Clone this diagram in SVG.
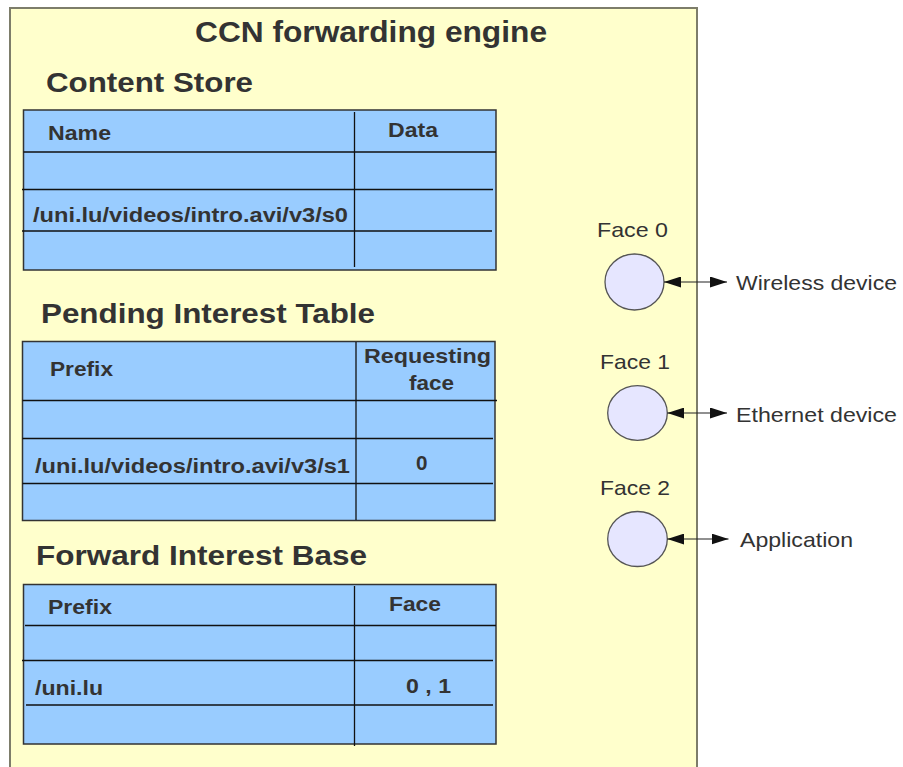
<svg xmlns="http://www.w3.org/2000/svg" width="903" height="767" viewBox="0 0 903 767">
<defs>
<style>
.box{fill:#ffffcc;stroke:#7d7d6a;stroke-width:2}
.tbl{fill:#99ccff;stroke:#333333;stroke-width:1.5}
.ln{stroke:#111111;stroke-width:1.3;fill:none}
.t{font-family:"Liberation Sans",Arial,sans-serif;fill:#333333}
.b{font-weight:bold}
.title{font-size:29px}
.sec{font-size:28px}
.hd{font-size:20.5px}
.cell{font-size:19.5px}
.face{font-size:21px}
.circ{fill:#e6e6ff;stroke:#555555;stroke-width:1.3}
.con{stroke:#222222;stroke-width:1.2;fill:none;marker-start:url(#ah);marker-end:url(#ah)}
</style>
<marker id="ah" viewBox="0 0 17 11" refX="17" refY="5.5" markerWidth="17" markerHeight="11" markerUnits="userSpaceOnUse" orient="auto-start-reverse">
<path d="M0,0 L17,5.5 L0,11 Z" fill="#111111"/>
</marker>
</defs>
<g id="engine">
<rect class="box" x="10" y="8" width="687" height="800"/>
<text class="t b title" x="195" y="42" textLength="352" lengthAdjust="spacingAndGlyphs">CCN forwarding engine</text>
</g>
<g id="content-store">
<text class="t b sec" x="46" y="92" textLength="207" lengthAdjust="spacingAndGlyphs">Content Store</text>
<rect class="tbl" x="23.5" y="110" width="472.5" height="160"/>
<line class="ln" x1="23.5" y1="152" x2="496" y2="152"/>
<line class="ln" x1="22" y1="189.5" x2="493" y2="189.5"/>
<line class="ln" x1="22" y1="231" x2="492" y2="231"/>
<line class="ln" x1="354.5" y1="112" x2="354.5" y2="267"/>
<text class="t b hd" x="48" y="140" textLength="63" lengthAdjust="spacingAndGlyphs">Name</text>
<text class="t b hd" x="388" y="137" textLength="50" lengthAdjust="spacingAndGlyphs">Data</text>
<text class="t b cell" x="33" y="222" textLength="315" lengthAdjust="spacingAndGlyphs">/uni.lu/videos/intro.avi/v3/s0</text>
</g>
<g id="pit">
<text class="t b sec" x="41" y="323" textLength="334" lengthAdjust="spacingAndGlyphs">Pending Interest Table</text>
<rect class="tbl" x="22.5" y="341.5" width="472.5" height="179"/>
<line class="ln" x1="22.5" y1="400.5" x2="497" y2="400.5"/>
<line class="ln" x1="22.5" y1="438.5" x2="493" y2="438.5"/>
<line class="ln" x1="22.5" y1="483.5" x2="493" y2="483.5"/>
<line class="ln" x1="356" y1="342" x2="356" y2="520"/>
<text class="t b hd" x="50" y="376" textLength="63" lengthAdjust="spacingAndGlyphs">Prefix</text>
<text class="t b hd" x="364" y="363" textLength="127" lengthAdjust="spacingAndGlyphs">Requesting</text>
<text class="t b hd" x="409" y="390" textLength="45" lengthAdjust="spacingAndGlyphs">face</text>
<text class="t b cell" x="35" y="473" textLength="315" lengthAdjust="spacingAndGlyphs">/uni.lu/videos/intro.avi/v3/s1</text>
<text class="t b hd" x="416" y="470" textLength="11.5" lengthAdjust="spacingAndGlyphs">0</text>
</g>
<g id="fib">
<text class="t b sec" x="36" y="565" textLength="331" lengthAdjust="spacingAndGlyphs">Forward Interest Base</text>
<rect class="tbl" x="23.5" y="584.5" width="472.5" height="159.5"/>
<line class="ln" x1="25" y1="625.5" x2="496" y2="625.5"/>
<line class="ln" x1="22" y1="660.5" x2="493" y2="660.5"/>
<line class="ln" x1="26" y1="705" x2="493" y2="705"/>
<line class="ln" x1="354.5" y1="586" x2="354.5" y2="746"/>
<text class="t b hd" x="48" y="614" textLength="64" lengthAdjust="spacingAndGlyphs">Prefix</text>
<text class="t b hd" x="389" y="611" textLength="52" lengthAdjust="spacingAndGlyphs">Face</text>
<text class="t b cell" x="35" y="695" textLength="68" lengthAdjust="spacingAndGlyphs">/uni.lu</text>
<text class="t b hd" x="406" y="692.5" textLength="45" lengthAdjust="spacingAndGlyphs">0 , 1</text>
</g>
<g id="face0">
<text class="t face" x="597" y="237" textLength="71" lengthAdjust="spacingAndGlyphs">Face 0</text>
<ellipse class="circ" cx="634.5" cy="282" rx="29.5" ry="28"/>
</g>
<g id="face1">
<text class="t face" x="600" y="368.5" textLength="70" lengthAdjust="spacingAndGlyphs">Face 1</text>
<ellipse class="circ" cx="637.5" cy="413" rx="29.8" ry="27.3"/>
</g>
<g id="face2">
<text class="t face" x="600" y="495" textLength="70" lengthAdjust="spacingAndGlyphs">Face 2</text>
<ellipse class="circ" cx="637.5" cy="539" rx="29.8" ry="27.5"/>
</g>
<g id="wireless"><text class="t face" x="736" y="290" textLength="161" lengthAdjust="spacingAndGlyphs">Wireless device</text></g>
<g id="ethernet"><text class="t face" x="736" y="421.5" textLength="161" lengthAdjust="spacingAndGlyphs">Ethernet device</text></g>
<g id="application"><text class="t face" x="740" y="547" textLength="113" lengthAdjust="spacingAndGlyphs">Application</text></g>
<g id="connectors">
<line class="con" x1="664" y1="282" x2="727" y2="282"/>
<line class="con" x1="667.3" y1="413" x2="727" y2="413"/>
<line class="con" x1="667.3" y1="539" x2="728.5" y2="539"/>
</g>
</svg>
